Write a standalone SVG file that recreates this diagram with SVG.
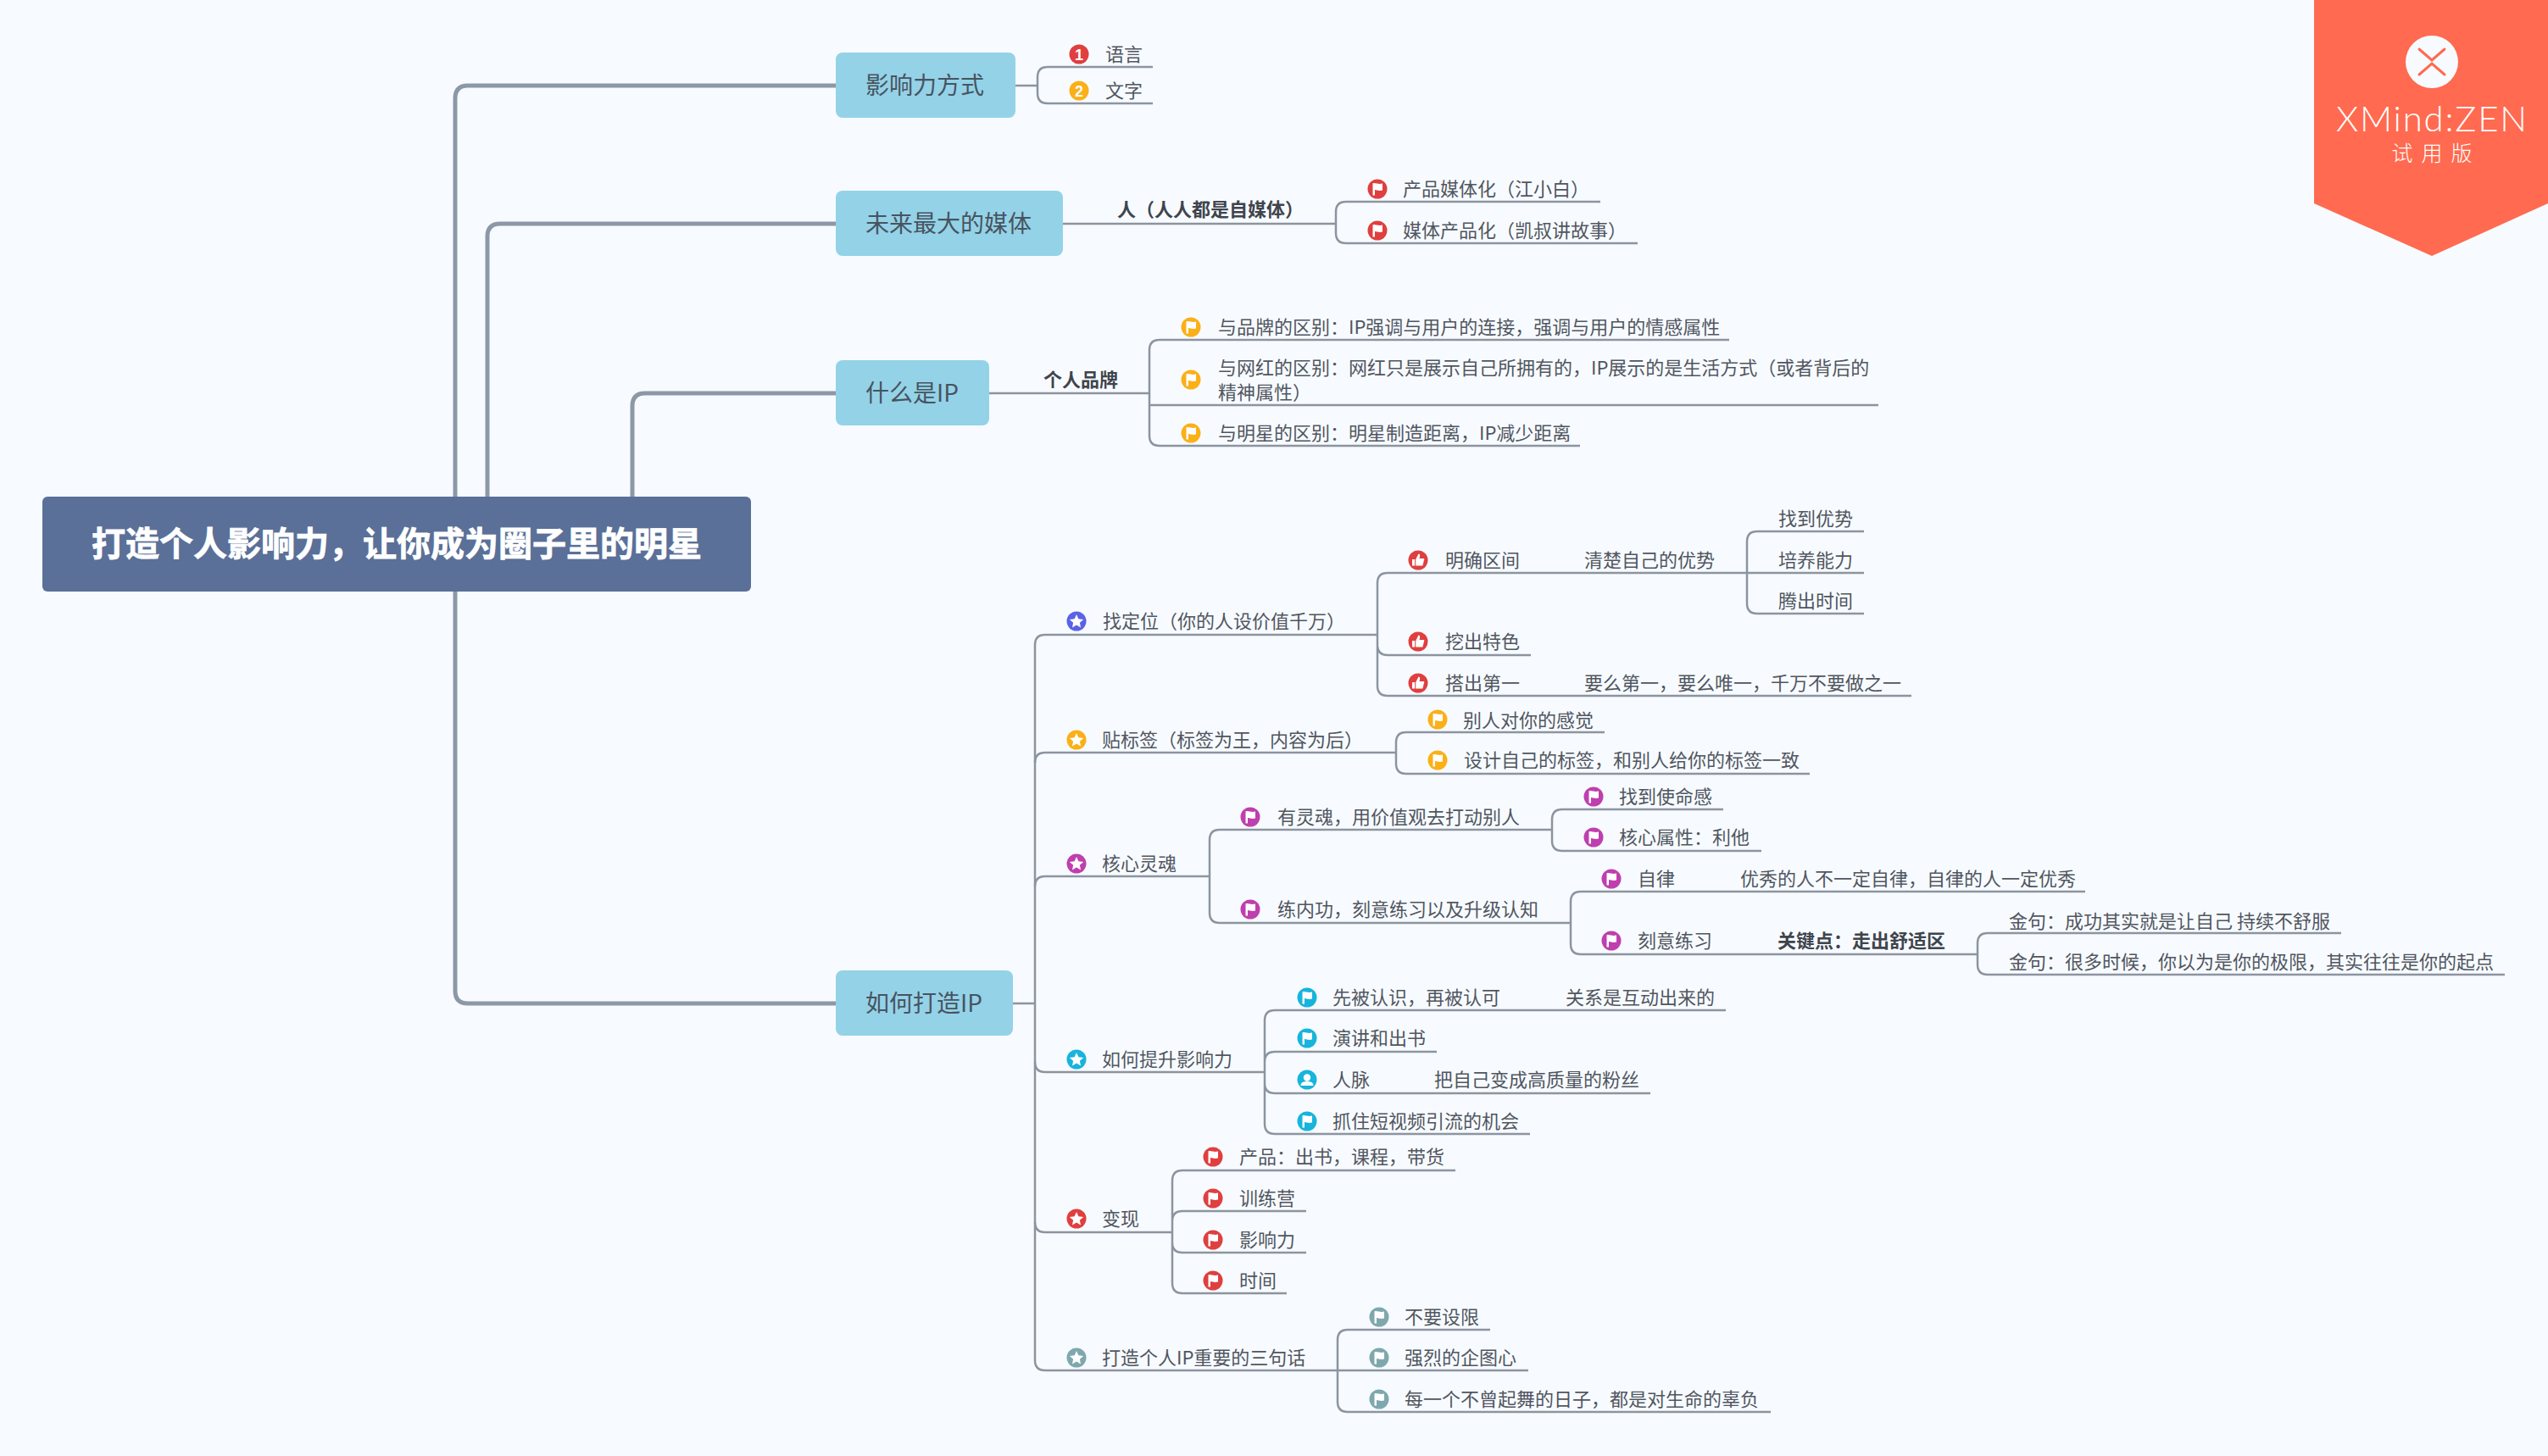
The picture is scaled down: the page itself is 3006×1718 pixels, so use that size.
<svg xmlns="http://www.w3.org/2000/svg" width="3006" height="1718" viewBox="0 0 3006 1718">
<style>
text{font-family:"Noto Sans CJK SC","Noto Sans",sans-serif;fill:#51565f;font-size:22px}
.b{font-weight:700;fill:#3f444d}
.main{font-size:28px;fill:#47545f}
.top{fill:#94d2e8}
.thick{fill:none;stroke:#8c97a8;stroke-width:5}
.thin{fill:none;stroke:#8c94a0;stroke-width:2.5}
.num{font-family:"Liberation Sans",sans-serif;font-weight:700;font-size:18px;fill:#fff;text-anchor:middle}
.red{fill:#e03f3f}.yel{fill:#fbb018}.vio{fill:#5a62e6}.mag{fill:#bf3fae}.cya{fill:#17b4dc}.tea{fill:#7ea8ad}
</style>
<defs>
<g id="flag"><circle r="11.5"/><path d="M-5.500-6.500C-3-8 1-5 6-6.500V1.500C1 3-3 0-3 1.500V7.500H-5.500Z" fill="#fff"/></g>
<g id="star"><circle r="11.5"/><path d="M0-8 2.400-2.700 8.200-2.100 3.900 1.800 5 7.500 0 4.600-5 7.500-3.900 1.800-8.200-2.100-2.400-2.700Z" fill="#fff"/></g>
<g id="thumb"><circle r="11.5"/><path d="M-7-1H-3.800V6.500H-7ZM-2.800-1 .5-7.500C2-7.500 2.500-6 2-4L1.500-2H6.500C7.500-2 7.500-.5 7-.2L5.500 6C5.300 6.600 5 6.500 4.500 6.500H-2.800Z" fill="#fff"/></g>
<g id="person"><circle r="11.5"/><circle cy="-2.500" r="4.200" fill="#fff"/><path d="M-7.500 7C-7.500 2.500-3 2 0 2S7.500 2.500 7.500 7Z" fill="#fff"/></g>
</defs>
<rect width="3006" height="1718" fill="#f7fbff"/>
<g id="connectors">
<path class="thick" d="M537 586V116Q537 101 552 101H986"/>
<path class="thick" d="M575 586V279Q575 264 590 264H986"/>
<path class="thick" d="M746 586V479Q746 464 761 464H986"/>
<path class="thick" d="M537 698V1169Q537 1184 552 1184H986"/>
<path class="thin" d="M1198 101H1224M1360 79H1236Q1224 79 1224 91V110Q1224 122 1236 122H1360"/>
<path class="thin" d="M1254 264H1576M1888 238H1588Q1576 238 1576 250V275Q1576 287 1588 287H1932"/>
<path class="thin" d="M1167 464H1356M2040 401H1368Q1356 401 1356 413V514Q1356 526 1368 526H1864M1356 478H2216"/>
<path class="thin" d="M1195 1184H1221M1625 749H1233Q1221 749 1221 761V1605Q1221 1617 1233 1617H1578"/>
<path class="thin" d="M1221 900Q1221 888 1233 888H1647M1221 1046Q1221 1034 1233 1034H1427M1221 1253Q1221 1265 1233 1265H1492M1221 1442Q1221 1454 1233 1454H1383"/>
<path class="thin" d="M1806 773H1637Q1625 773 1625 761V688Q1625 676 1637 676H2061M1625 761V809Q1625 821 1637 821H2255"/>
<path class="thin" d="M2199 627H2073Q2061 627 2061 639V712Q2061 724 2073 724H2199M2061 676H2199"/>
<path class="thin" d="M1893 864H1659Q1647 864 1647 876V901Q1647 913 1659 913H2135"/>
<path class="thin" d="M1831 979H1439Q1427 979 1427 991V1077Q1427 1089 1439 1089H1853"/>
<path class="thin" d="M2033 955H1843Q1831 955 1831 967V992Q1831 1004 1843 1004H2078"/>
<path class="thin" d="M2460 1052H1865Q1853 1052 1853 1064V1114Q1853 1126 1865 1126H2333"/>
<path class="thin" d="M2762 1101H2345Q2333 1101 2333 1113V1138Q2333 1150 2345 1150H2955"/>
<path class="thin" d="M2036 1192H1504Q1492 1192 1492 1204V1326Q1492 1338 1504 1338H1805M1492 1253Q1492 1241 1504 1241H1695M1492 1278Q1492 1290 1504 1290H1947"/>
<path class="thin" d="M1717 1381H1395Q1383 1381 1383 1393V1514Q1383 1526 1395 1526H1518M1383 1441Q1383 1429 1395 1429H1541M1383 1466Q1383 1478 1395 1478H1541"/>
<path class="thin" d="M1758 1569H1590Q1578 1569 1578 1581V1654Q1578 1666 1590 1666H2089M1578 1617H1803"/>
</g>
<g id="root"><rect x="50" y="586" width="836" height="112" rx="6" fill="#5a7098"/><text x="468" y="656" text-anchor="middle" class="b" style="font-size:40px;fill:#fff;stroke:#fff;stroke-width:.8">打造个人影响力，让你成为圈子里的明星</text></g>
<g id="n1"><rect class="top" x="986" y="62" width="212" height="77" rx="8"/><text class="main" x="1021" y="111">影响力方式</text></g>
<g id="n2"><rect class="top" x="986" y="225" width="268" height="77" rx="8"/><text class="main" x="1021" y="274">未来最大的媒体</text></g>
<g id="n3"><rect class="top" x="986" y="425" width="181" height="77" rx="8"/><text class="main" x="1021" y="474">什么是IP</text></g>
<g id="n4"><rect class="top" x="986" y="1145" width="209" height="77" rx="8"/><text class="main" x="1021" y="1194">如何打造IP</text></g>
<g id="n1-kids">
<circle class="red" cx="1273" cy="64" r="11.5"/><text class="num" x="1273" y="70.500">1</text><text x="1304" y="72">语言</text>
<circle class="yel" cx="1273" cy="107" r="11.5"/><text class="num" x="1273" y="113.500">2</text><text x="1304" y="115">文字</text>
</g>
<g id="n2-kids">
<text class="b" x="1318" y="255">人（人人都是自媒体）</text>
<use href="#flag" class="red" x="1625" y="223"/><text x="1655" y="231">产品媒体化（江小白）</text>
<use href="#flag" class="red" x="1625" y="272"/><text x="1655" y="280">媒体产品化（凯叔讲故事）</text>
</g>
<g id="n3-kids">
<text class="b" x="1231" y="456">个人品牌</text>
<use href="#flag" class="yel" x="1405" y="386"/><text x="1437" y="394">与品牌的区别：IP强调与用户的连接，强调与用户的情感属性</text>
<use href="#flag" class="yel" x="1405" y="448"/><text x="1437" y="442">与网红的区别：网红只是展示自己所拥有的，IP展示的是生活方式（或者背后的</text><text x="1437" y="471">精神属性）</text>
<use href="#flag" class="yel" x="1405" y="511"/><text x="1437" y="519">与明星的区别：明星制造距离，IP减少距离</text>
</g>
<g id="n4-a">
<use href="#star" class="vio" x="1270" y="733"/><text x="1301" y="741">找定位（你的人设价值千万）</text>
<use href="#thumb" class="red" x="1673" y="661"/><text x="1705" y="669">明确区间</text><text x="1869" y="669">清楚自己的优势</text>
<text x="2098" y="620">找到优势</text><text x="2098" y="669">培养能力</text><text x="2098" y="717">腾出时间</text>
<use href="#thumb" class="red" x="1673" y="757"/><text x="1705" y="765">挖出特色</text>
<use href="#thumb" class="red" x="1673" y="806"/><text x="1705" y="814">搭出第一</text><text x="1869" y="814">要么第一，要么唯一，千万不要做之一</text>
</g>
<g id="n4-b">
<use href="#star" class="yel" x="1270" y="873"/><text x="1300" y="881">贴标签（标签为王，内容为后）</text>
<use href="#flag" class="yel" x="1696" y="849"/><text x="1726" y="858">别人对你的感觉</text>
<use href="#flag" class="yel" x="1696" y="897"/><text x="1727" y="905">设计自己的标签，和别人给你的标签一致</text>
</g>
<g id="n4-c">
<use href="#star" class="mag" x="1270" y="1019"/><text x="1300" y="1027">核心灵魂</text>
<use href="#flag" class="mag" x="1475" y="964"/><text x="1507" y="972">有灵魂，用价值观去打动别人</text>
<use href="#flag" class="mag" x="1880" y="940"/><text x="1910" y="948">找到使命感</text>
<use href="#flag" class="mag" x="1880" y="988"/><text x="1910" y="996">核心属性：利他</text>
<use href="#flag" class="mag" x="1475" y="1073"/><text x="1507" y="1081">练内功，刻意练习以及升级认知</text>
<use href="#flag" class="mag" x="1901" y="1037"/><text x="1932" y="1045">自律</text><text x="2053" y="1045">优秀的人不一定自律，自律的人一定优秀</text>
<use href="#flag" class="mag" x="1901" y="1110"/><text x="1932" y="1118">刻意练习</text><text class="b" x="2097" y="1118">关键点：走出舒适区</text>
<text x="2370" y="1095">金句：成功其实就是让自己 持续不舒服</text>
<text x="2370" y="1143">金句：很多时候，你以为是你的极限，其实往往是你的起点</text>
</g>
<g id="n4-d">
<use href="#star" class="cya" x="1270" y="1250"/><text x="1300" y="1258">如何提升影响力</text>
<use href="#flag" class="cya" x="1542" y="1177"/><text x="1572" y="1185">先被认识，再被认可</text><text x="1847" y="1185">关系是互动出来的</text>
<use href="#flag" class="cya" x="1542" y="1225"/><text x="1572" y="1233">演讲和出书</text>
<use href="#person" class="cya" x="1542" y="1274"/><text x="1572" y="1282">人脉</text><text x="1692" y="1282">把自己变成高质量的粉丝</text>
<use href="#flag" class="cya" x="1542" y="1323"/><text x="1572" y="1331">抓住短视频引流的机会</text>
</g>
<g id="n4-e">
<use href="#star" class="red" x="1270" y="1438"/><text x="1300" y="1446">变现</text>
<use href="#flag" class="red" x="1431" y="1365"/><text x="1462" y="1373">产品：出书，课程，带货</text>
<use href="#flag" class="red" x="1431" y="1414"/><text x="1462" y="1422">训练营</text>
<use href="#flag" class="red" x="1431" y="1463"/><text x="1462" y="1471">影响力</text>
<use href="#flag" class="red" x="1431" y="1511"/><text x="1462" y="1519">时间</text>
</g>
<g id="n4-f">
<use href="#star" class="tea" x="1270" y="1602"/><text x="1300" y="1610">打造个人IP重要的三句话</text>
<use href="#flag" class="tea" x="1627" y="1554"/><text x="1657" y="1562">不要设限</text>
<use href="#flag" class="tea" x="1627" y="1602"/><text x="1657" y="1610">强烈的企图心</text>
<use href="#flag" class="tea" x="1627" y="1651"/><text x="1657" y="1659">每一个不曾起舞的日子，都是对生命的辜负</text>
</g>
<g id="badge">
<path d="M2730 0H3006V240L2869 302 2730 240Z" fill="#ff6a50"/>
<circle cx="2869" cy="73" r="31" fill="#f7fbff"/>
<path d="M2854 58 2869 71 2884 58M2854 88 2869 75 2884 88" fill="none" stroke="#ff6a50" stroke-width="3" stroke-linecap="round"/>
<text x="2756" y="155" textLength="225" lengthAdjust="spacing" style="font-family:Lato,'Noto Sans',sans-serif;font-size:42px;font-weight:300;fill:#fff">XMind:ZEN</text>
<text x="2874" y="190" text-anchor="middle" style="font-size:25px;fill:#fff;font-weight:300;letter-spacing:10px">试用版</text>
</g>
</svg>
